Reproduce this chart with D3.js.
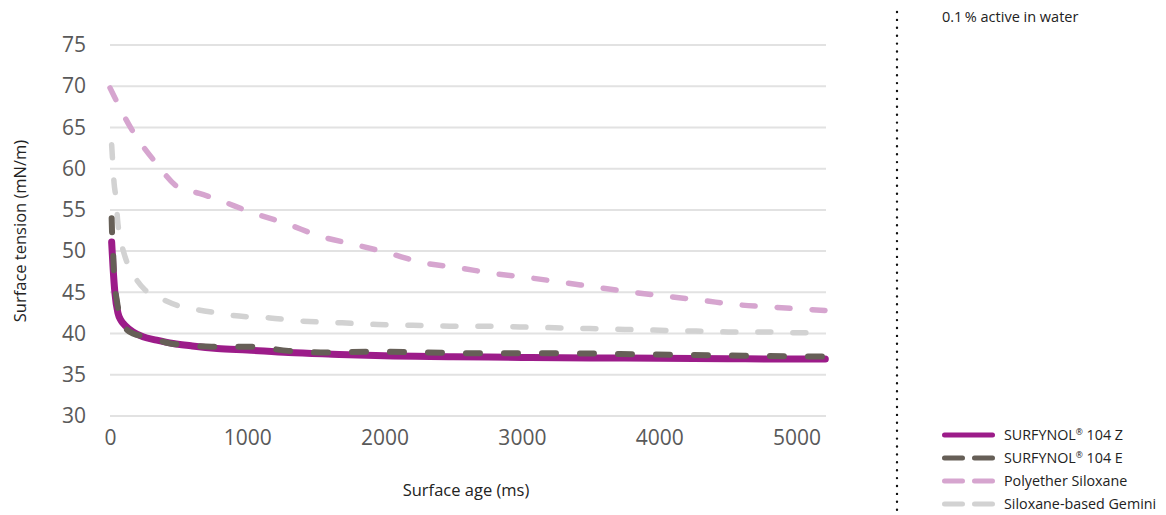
<!DOCTYPE html>
<html>
<head>
<meta charset="utf-8">
<script src="https://cdn.jsdelivr.net/npm/d3@7"></script>
<style>
  body { margin: 0; background: #fff; }
  text { font-family: "Open Sans", "Noto Sans", sans-serif; }
</style>
</head>
<body>
<div id="chart-area"></div>
<script>
// values: surface age (ms) vs surface tension (mN/m)
let seriesNames = ["SURFYNOL® 104 Z", "SURFYNOL® 104 E", "Polyether Siloxane", "Siloxane-based Gemini"];

let zTime = [12, 22, 36, 58, 80, 109, 167, 240, 340, 460, 600, 780, 1000, 1300, 1620, 2000, 2500, 3000, 3500, 4000, 4500, 5000, 5210];
let zValue = [51.1, 48.1, 44.9, 42.5, 41.6, 41.0, 40.2, 39.6, 39.2, 38.8, 38.5, 38.2, 38.0, 37.7, 37.5, 37.3, 37.2, 37.1, 37.05, 37.0, 36.95, 36.9, 36.9];

let eTime = [12, 15, 22, 30, 50, 88, 167, 270, 440, 560, 740, 1030, 1300, 1580, 1900, 2300, 2800, 3300, 3800, 4200, 4700, 5210];
let eValue = [54.0, 52.2, 50.1, 46.8, 44.0, 41.3, 40.0, 39.6, 38.8, 38.6, 38.4, 38.4, 37.9, 37.7, 37.8, 37.7, 37.6, 37.6, 37.5, 37.4, 37.3, 37.2];

let pTime = [0, 160, 330, 510, 650, 760, 1030, 1290, 1530, 1780, 2020, 2280, 2530, 2790, 3040, 3300, 3550, 3810, 4060, 4320, 4570, 4830, 5210];
let pValue = [69.8, 64.7, 60.8, 57.6, 57.0, 56.4, 54.7, 53.3, 51.8, 50.8, 49.8, 48.6, 48.0, 47.3, 46.8, 46.2, 45.6, 45.0, 44.5, 44.0, 43.5, 43.2, 42.8];

let gTime = [12, 20, 30, 45, 55, 75, 110, 165, 255, 365, 510, 635, 780, 895, 1040, 1165, 1330, 1690, 1950, 2205, 2475, 2730, 2985, 3240, 3495, 3750, 4005, 4270, 4510, 4780, 5000, 5210];
let gValue = [62.9, 60.7, 58.2, 56.2, 53.8, 51.6, 49.3, 47.3, 45.3, 44.3, 43.3, 42.9, 42.5, 42.2, 42.0, 41.9, 41.6, 41.3, 41.1, 41.0, 40.9, 40.9, 40.8, 40.7, 40.6, 40.5, 40.4, 40.3, 40.2, 40.2, 40.1, 40.1];

let xTicks = [0, 1000, 2000, 3000, 4000, 5000];
let yTicks = [30, 35, 40, 45, 50, 55, 60, 65, 70, 75];

let width = 1166, height = 515;
let plot = {left: 110, right: 826, top: 45, bottom: 416};

let svg = d3.select("#chart-area").append("svg")
    .attr("width", width)
    .attr("height", height);

let x = d3.scaleLinear()
    .domain([0, 5215])
    .range([plot.left, plot.right]);

let y = d3.scaleLinear()
    .domain([30, 75])
    .range([plot.bottom, plot.top]);

// gridlines
svg.append("g").selectAll("line")
    .data(yTicks)
    .enter().append("line")
    .attr("x1", plot.left)
    .attr("x2", plot.right)
    .attr("y1", d => y(d))
    .attr("y2", d => y(d))
    .attr("stroke", "#e2e2e2")
    .attr("stroke-width", 2);

let yAxis = d3.axisLeft(y).tickValues(yTicks).tickSize(0).tickPadding(0);
let yAxisGroup = svg.append("g")
    .attr("transform", "translate(" + 86 + ",0)")
    .call(yAxis);

let xAxis = d3.axisBottom(x).tickValues(xTicks).tickFormat(d3.format("d")).tickSize(0).tickPadding(0);
let xAxisGroup = svg.append("g")
    .attr("transform", "translate(0," + 430 + ")")
    .call(xAxis);

svg.selectAll(".domain").remove();
svg.selectAll(".tick text")
    .attr("font-size", 21)
    .attr("fill", "#595959")
    .style("font-family", "'Open Sans', sans-serif");
xAxisGroup.selectAll(".tick text").attr("dy", "0.71em");

// axis titles
svg.append("text")
    .attr("x", 466)
    .attr("y", 490)
    .attr("dy", "0.35em")
    .attr("text-anchor", "middle")
    .attr("font-size", 16.5)
    .attr("fill", "#222")
    .text("Surface age (ms)");

svg.append("text")
    .attr("transform", "translate(20,231) rotate(-90)")
    .attr("dy", "0.35em")
    .attr("text-anchor", "middle")
    .attr("font-size", 16.5)
    .attr("fill", "#222")
    .text("Surface tension (mN/m)");

let line = d3.line()
    .x(d => x(d.t))
    .y(d => y(d.v))
    .curve(d3.curveMonotoneX);

function toPoints(ts, vs) {
    return ts.map((t, i) => ({t: t, v: vs[i]}));
}

let series = [
    {name: seriesNames[3], pts: toPoints(gTime, gValue), color: "#d2d2d2", w: 5.5, dash: "13 22"},
    {name: seriesNames[2], pts: toPoints(pTime, pValue), color: "#d6a5cf", w: 5.5, dash: "13 22"},
    {name: seriesNames[0], pts: toPoints(zTime, zValue), color: "#9c1c89", w: 7, dash: null},
    {name: seriesNames[1], pts: toPoints(eTime, eValue), color: "#665f57", w: 6, dash: "14 24"}
];

svg.append("g").selectAll("path")
    .data(series)
    .enter().append("path")
    .attr("d", d => line(d.pts))
    .attr("fill", "none")
    .attr("stroke", d => d.color)
    .attr("stroke-width", d => d.w)
    .attr("stroke-linecap", "round")
    .attr("stroke-linejoin", "round")
    .attr("stroke-dasharray", d => d.dash);

// dotted divider
svg.append("line")
    .attr("x1", 897).attr("x2", 897)
    .attr("y1", 12).attr("y2", 510)
    .attr("stroke", "#111")
    .attr("stroke-width", 2.4)
    .attr("stroke-linecap", "round")
    .attr("stroke-dasharray", "0 7.9");

svg.append("text")
    .attr("x", 942)
    .attr("y", 17)
    .attr("dy", "0.35em")
    .attr("font-size", 14.5)
    .attr("fill", "#222")
    .text("0.1\u2009% active in water");

// legend
let legendItems = [series[2], series[3], series[1], series[0]];
let legend = svg.append("g").selectAll("g")
    .data(legendItems)
    .enter().append("g")
    .attr("transform", (d, i) => "translate(0," + (435 + i * 23) + ")");

legend.append("line")
    .attr("x1", 944.5).attr("x2", 992.5)
    .attr("stroke", d => d.color)
    .attr("stroke-width", 5)
    .attr("stroke-linecap", "round")
    .attr("stroke-dasharray", d => d.dash ? "18 12" : null);

let labels = legend.append("text")
    .attr("x", 1004)
    .attr("dy", "0.35em")
    .attr("font-size", 14.3)
    .attr("fill", "#222");

labels.each(function(d) {
    let t = d3.select(this);
    let parts = d.name.split("®");
    t.append("tspan").text(parts[0]);
    if (parts.length > 1) {
        t.append("tspan").attr("font-size", 8.5).attr("dy", -5).text("®");
        t.append("tspan").attr("dy", 5).text(parts[1]);
    }
});
</script>
</body>
</html>
